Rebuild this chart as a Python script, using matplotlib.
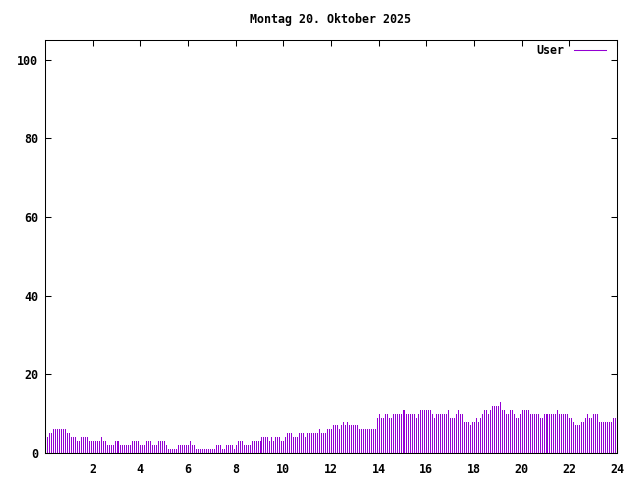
"""
Daily user count chart (gnuplot style), one bar every 5 minutes.
"""

import matplotlib
matplotlib.use("Agg")
import matplotlib.pyplot as plt
from matplotlib.lines import Line2D
import numpy as np

TITLE = "Montag 20. Oktober 2025"
SERIES_LABEL = "User"
BAR_COLOR = "#9400d3"

# users online, one sample every 5 minutes from 00:05 to 24:00
users_00_04 = [4, 5, 5, 6, 6, 6, 6, 6, 6, 6, 5, 5, 4, 4, 4, 3, 3, 4, 4, 4, 4, 3, 3,
               3, 3, 3, 3, 4, 3, 3, 2, 2, 2, 2, 3, 3, 3, 2, 2, 2, 2, 2, 2, 3, 3, 3]
users_04_08 = [3, 2, 2, 2, 3, 3, 3, 2, 2, 2, 3, 3, 3, 3, 2, 1, 1, 1, 1, 1, 2, 2, 2, 2, 2,
               2, 3, 2, 2, 1, 1, 1, 1, 1, 1, 1, 1, 1, 1, 2, 2, 2, 1, 1, 2, 2, 2, 2, 1]
users_08_12 = [2, 3, 3, 3, 2, 2, 2, 2, 3, 3, 3, 3, 3, 4, 4, 4, 4, 3, 4, 3, 4, 4, 4, 3,
               3, 4, 5, 5, 5, 4, 4, 4, 5, 5, 5, 4, 5, 5, 5, 5, 5, 5, 6, 5, 5, 5, 6, 6]
users_12_16 = [6, 7, 7, 7, 6, 7, 8, 7, 8, 7, 7, 7, 7, 7, 6, 6, 6, 6, 6, 6, 6, 6, 6, 9, 10,
               9, 9, 10, 10, 9, 9, 10, 10, 10, 10, 10, 11, 11, 10, 10, 10, 10, 10, 9, 10,
               11, 11, 11, 11]
users_16_20 = [11, 11, 10, 9, 10, 10, 10, 10, 10, 10, 11, 9, 9, 9, 10, 11, 10, 10, 8, 8,
               8, 7, 8, 8, 9, 8, 9, 10, 11, 11, 10, 11, 12, 12, 12, 12, 13, 11, 11, 10,
               10, 11, 11, 10, 9, 9, 10, 11]
users_20_24 = [11, 11, 11, 10, 10, 10, 10, 10, 9, 9, 10, 10, 10, 10, 10, 10, 10, 11, 10,
               10, 10, 10, 10, 9, 9, 8, 7, 7, 7, 8, 8, 9, 10, 9, 9, 10, 10, 10, 8, 8, 8,
               8, 8, 8, 8, 9, 9, 9]

X_TICKS = [2, 4, 6, 8, 10, 12, 14, 16, 18, 20, 22, 24]
Y_TICKS = [0, 20, 40, 60, 80, 100]

FONT = "DejaVu Sans Mono"


def main():
    users = (users_00_04 + users_04_08 + users_08_12
             + users_12_16 + users_16_20 + users_20_24)
    hours = np.arange(1, len(users) + 1) * 5 / 60.0

    plt.rcParams["font.family"] = FONT
    plt.rcParams["font.size"] = 8.4
    plt.rcParams["font.weight"] = "bold"

    fig = plt.figure(figsize=(6.4, 4.8), dpi=100)
    ax = fig.add_axes([45 / 640, 27 / 480, 572 / 640, 413 / 480])

    ax.vlines(hours, 0, users, colors=BAR_COLOR, linewidth=0.5,
              antialiased=False)

    ax.set_xlim(0, 24)
    ax.set_ylim(0, 105)
    ax.set_xticks(X_TICKS)
    ax.set_yticks(Y_TICKS)
    ax.tick_params(direction="in", length=4, width=0.75, top=True, right=True,
                   labelsize=8.4)
    ax.tick_params(axis="x", pad=7)
    ax.tick_params(axis="y", pad=5)
    for spine in ax.spines.values():
        spine.set_linewidth(0.75)

    handle = Line2D([], [], color=BAR_COLOR, linewidth=0.75)
    ax.legend([handle], [SERIES_LABEL], loc="upper right", frameon=False,
              markerfirst=False, handlelength=2.8, handletextpad=0.8,
              borderaxespad=0.0, borderpad=0.4,
              bbox_to_anchor=(1 - 6 / 572, 1 + 1 / 413),
              prop={"family": FONT, "weight": "bold", "size": 8.4})

    fig.text(331 / 640, 1 - 20 / 480, TITLE, ha="center", va="center",
             fontsize=8.4, fontweight="bold")

    fig.savefig("out.png", dpi=100)
    plt.close(fig)


if __name__ == "__main__":
    main()
